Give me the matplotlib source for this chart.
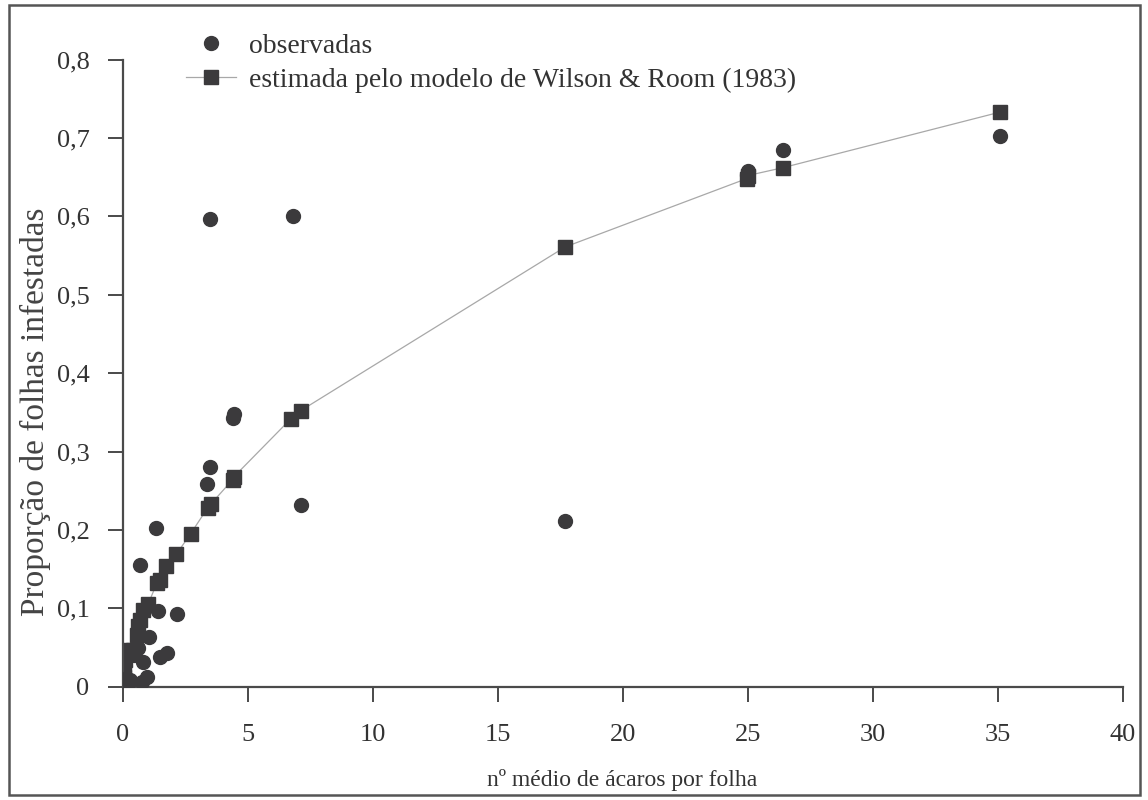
#!/usr/bin/env python3
import numpy as np
import matplotlib
matplotlib.use('Agg')
import matplotlib.pyplot as plt
from matplotlib.patches import Rectangle
from matplotlib.ticker import FuncFormatter

matplotlib.rcParams['font.family'] = ['Liberation Serif', 'DejaVu Serif']

# observed proportions (mean mites per leaf, proportion of infested leaves)
obs_x = [0.0, 0.1, 0.23, 0.29, 0.46, 0.62, 0.69, 0.76, 0.82, 0.98, 1.06, 1.33, 1.42, 1.49, 1.78,
         2.16, 3.36, 3.49, 3.50, 4.39, 4.43, 6.80, 7.11, 17.7, 24.95, 25.0, 26.4, 35.1]
obs_y = [0.005, 0.010, 0.006, 0.009, 0.041, 0.050, 0.155, 0.006, 0.032, 0.013, 0.063, 0.202, 0.097, 0.038, 0.043,
         0.093, 0.259, 0.280, 0.597, 0.343, 0.348, 0.601, 0.232, 0.211, 0.653, 0.658, 0.684, 0.702]

# Wilson & Room (1983) model estimates
est_x = [0.0, 0.03, 0.03, 0.09, 0.22, 0.42, 0.56, 0.62, 0.69, 0.82, 1.02, 1.36, 1.49, 1.72,
         2.14, 2.71, 3.39, 3.52, 4.39, 4.45, 6.73, 7.11, 17.7, 24.95, 25.0, 26.4, 35.1]
est_y = [0.005, 0.013, 0.023, 0.034, 0.047, 0.047, 0.066, 0.077, 0.085, 0.098, 0.106, 0.132, 0.136, 0.154,
         0.169, 0.195, 0.228, 0.233, 0.264, 0.268, 0.342, 0.352, 0.561, 0.648, 0.652, 0.662, 0.733]

dark = '#3b3a3c'

fig = plt.figure(figsize=(11.48, 8), dpi=100)
ax = fig.add_axes([0.107, 0.1416, 0.871, 0.784])

ax.plot(est_x, est_y, '-', color='#a8a8a8', lw=0.9, marker='s', markersize=9.5,
        markerfacecolor=dark, markeredgecolor=dark, label='estimada pelo modelo de Wilson & Room (1983)', zorder=2)
ax.plot(obs_x, obs_y, 'o', color=dark, markersize=10, linestyle='none', label='observadas', zorder=3)

ax.set_xlim(0, 40)
ax.set_ylim(0, 0.8)
ax.set_xticks(np.arange(0, 41, 5))
ax.set_yticks(np.arange(0, 0.81, 0.1))
ax.yaxis.set_major_formatter(FuncFormatter(lambda v, p: '0' if abs(v) < 1e-9 else f'{v:.1f}'.replace('.', ',')))

for s in ['top', 'right']:
    ax.spines[s].set_visible(False)
for s in ['left', 'bottom']:
    ax.spines[s].set_color('#4a4a4a')
    ax.spines[s].set_linewidth(1.6)

ax.tick_params(axis='both', direction='out', length=11, width=1.4, color='#4a4a4a', labelcolor='#333333')
ax.tick_params(axis='x', pad=16, labelsize=19)
ax.tick_params(axis='y', pad=13, labelsize=19)

fig.text(0.542, 0.025, 'nº médio de ácaros por folha', ha='center', va='center', fontsize=17, color='#333333')
fig.text(0.031, 0.485, 'Proporção de folhas infestadas', ha='center', va='center', rotation=90,
         fontsize=24, color='#444444')

handles, labels = ax.get_legend_handles_labels()
leg = fig.legend(handles[::-1], labels[::-1], loc='upper left', bbox_to_anchor=(0.152, 0.972),
                 frameon=False, fontsize=20, handlelength=1.8, handletextpad=0.5, labelspacing=0.3,
                 borderaxespad=0)
for t in leg.get_texts():
    t.set_color('#333333')

fig.patches.append(Rectangle((0.008, 0.006), 0.985, 0.988, transform=fig.transFigure,
                             fill=False, edgecolor='#555555', lw=1.8))

fig.savefig('out.png', dpi=100)
